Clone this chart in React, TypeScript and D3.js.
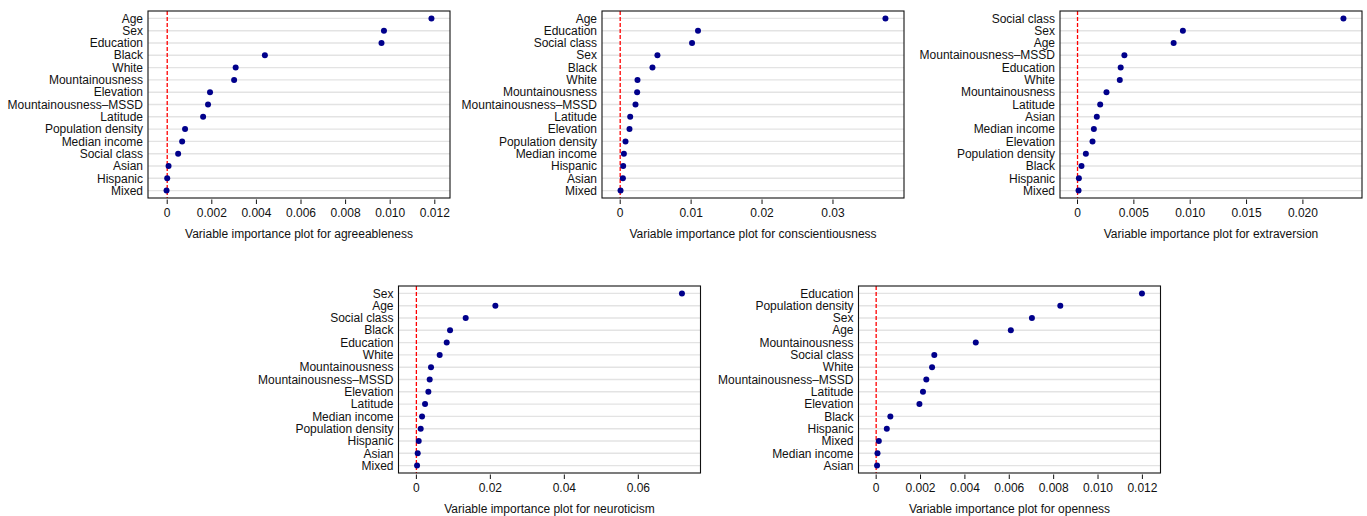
import * as d3 from "d3";

// ---- data ----
const agreeLabels = ["Age", "Sex", "Education", "Black", "White", "Mountainousness", "Elevation", "Mountainousness\u2013MSSD", "Latitude", "Population density", "Median income", "Social class", "Asian", "Hispanic", "Mixed"];
const agreeValues = [0.01185, 0.00972, 0.00961, 0.00438, 0.00307, 0.003, 0.00192, 0.00183, 0.00161, 0.0008, 0.00067, 0.00049, 0.00006, 0.0, -0.00003];

const consLabels = ["Age", "Education", "Social class", "Sex", "Black", "White", "Mountainousness", "Mountainousness\u2013MSSD", "Latitude", "Elevation", "Population density", "Median income", "Hispanic", "Asian", "Mixed"];
const consValues = [0.0374, 0.01097, 0.01013, 0.00525, 0.00455, 0.00244, 0.00239, 0.00216, 0.00141, 0.00131, 0.00075, 0.00052, 0.00042, 0.00038, 0.00005];

const extraLabels = ["Social class", "Sex", "Age", "Mountainousness\u2013MSSD", "Education", "White", "Mountainousness", "Latitude", "Asian", "Median income", "Elevation", "Population density", "Black", "Hispanic", "Mixed"];
const extraValues = [0.0236, 0.00935, 0.00853, 0.00416, 0.00383, 0.00375, 0.00257, 0.00201, 0.00171, 0.00145, 0.00133, 0.00074, 0.00035, 0.00012, 0.00009];

const neuroLabels = ["Sex", "Age", "Social class", "Black", "Education", "White", "Mountainousness", "Mountainousness\u2013MSSD", "Elevation", "Latitude", "Median income", "Population density", "Hispanic", "Asian", "Mixed"];
const neuroValues = [0.0718, 0.02135, 0.01333, 0.0091, 0.0082, 0.0063, 0.00396, 0.0036, 0.00324, 0.00234, 0.00153, 0.00117, 0.00063, 0.00036, 0.00018];

const openLabels = ["Education", "Population density", "Sex", "Age", "Mountainousness", "Social class", "White", "Mountainousness\u2013MSSD", "Latitude", "Elevation", "Black", "Hispanic", "Mixed", "Median income", "Asian"];
const openValues = [0.01198, 0.0083, 0.00702, 0.00607, 0.00449, 0.00262, 0.00252, 0.00226, 0.00211, 0.00195, 0.00064, 0.00048, 0.00012, 0.00006, 0.00004];

const ticksA = [0, 0.002, 0.004, 0.006, 0.008, 0.01, 0.012];
const ticksC = [0, 0.01, 0.02, 0.03];
const ticksE = [0, 0.005, 0.01, 0.015, 0.02];
const ticksN = [0, 0.02, 0.04, 0.06];
const ticksO = [0, 0.002, 0.004, 0.006, 0.008, 0.01, 0.012];

const traits = ["agreeableness", "conscientiousness", "extraversion", "neuroticism", "openness"];

const W = 1367;
const H = 516;
const FONT = "'Liberation Sans', Arial, Helvetica, sans-serif";
const DOT = "#00008b";

const panels = [
  { labels: agreeLabels, values: agreeValues, ticks: ticksA, dec: 3, x: 148, y: 11 },
  { labels: consLabels, values: consValues, ticks: ticksC, dec: 2, x: 602, y: 11 },
  { labels: extraLabels, values: extraValues, ticks: ticksE, dec: 3, x: 1060, y: 11 },
  { labels: neuroLabels, values: neuroValues, ticks: ticksN, dec: 2, x: 398.5, y: 286 },
  { labels: openLabels, values: openValues, ticks: ticksO, dec: 3, x: 858.5, y: 286 },
];

const PW = 302;
const PH = 187;

function Panel({ p, trait }: { p: typeof panels[number]; trait: string }) {
  const lo = d3.min(p.values) as number;
  const hi = d3.max(p.values) as number;
  const pad = (hi - lo) * 0.07;
  const x = d3.scaleLinear().domain([lo - pad, hi + pad]).range([0, PW]);
  const y = d3.scalePoint<string>().domain(p.labels).range([0, PH]).padding(0.6);
  const fmt = (v: number) => (v === 0 ? "0" : v.toFixed(p.dec));

  return (
    <g transform={`translate(${p.x},${p.y})`} fontFamily={FONT} fontSize={12}>
      {p.labels.map((l) => (
        <line key={"g" + l} x1={0} x2={PW} y1={y(l)} y2={y(l)} stroke="#e3e3e3" strokeWidth={1.4} />
      ))}
      <line x1={x(0)} x2={x(0)} y1={0} y2={PH} stroke="#ff0000" strokeWidth={1.3} strokeDasharray="4,2" />
      {p.labels.map((l, i) => (
        <circle key={"c" + l} cx={x(p.values[i])} cy={y(l)} r={3} fill={DOT} />
      ))}
      <rect x={0} y={0} width={PW} height={PH} fill="none" stroke="#111" strokeWidth={1.1} />
      {p.labels.map((l) => (
        <text key={"t" + l} x={-5} y={y(l)} dy="0.35em" textAnchor="end" fill="#111">
          {l}
        </text>
      ))}
      {p.ticks.map((t) => (
        <g key={"k" + t} transform={`translate(${x(t)},0)`}>
          <line y1={PH + 1.5} y2={PH + 6} stroke="#111" strokeWidth={1} />
          <text y={PH + 15} dy="0.35em" textAnchor="middle" fill="#111">
            {fmt(t)}
          </text>
        </g>
      ))}
      <text x={PW / 2} y={PH + 35.5} dy="0.35em" textAnchor="middle" fill="#111">
        {`Variable importance plot for ${trait}`}
      </text>
    </g>
  );
}

export default function App() {
  return (
    <div style={{ position: "absolute", left: 0, top: 0, width: W, height: H, background: "#fff" }}>
      <svg width={W} height={H} style={{ display: "block" }}>
        <rect width={W} height={H} fill="#fff" />
        {panels.map((p, i) => (
          <Panel key={traits[i]} p={p} trait={traits[i]} />
        ))}
      </svg>
    </div>
  );
}
